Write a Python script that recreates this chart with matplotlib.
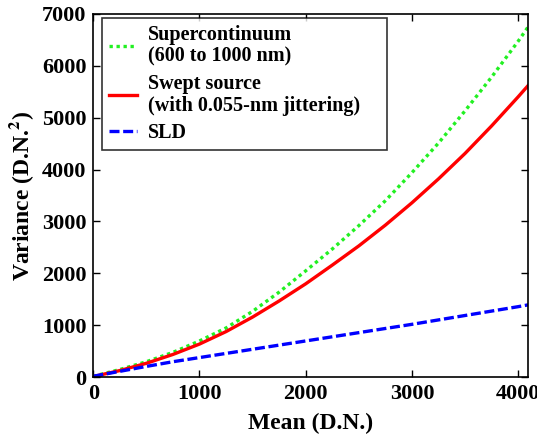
import matplotlib
matplotlib.use("Agg")
import matplotlib.pyplot as plt

plt.rcParams['font.family'] = ['Liberation Serif', 'DejaVu Serif']
plt.rcParams['font.weight'] = 'bold'
plt.rcParams['mathtext.fontset'] = 'stix'

# mean signal (D.N.)
mean_dn = [0, 250, 500, 750, 1000, 1250, 1500, 1750, 2000, 2250,
           2500, 2750, 3000, 3250, 3500, 3750, 4000, 4095]

# noise variance of each source (D.N.^2)
var_supercontinuum = [20, 150, 300, 480, 700, 950, 1270, 1640, 2050, 2470,
                      2920, 3400, 3940, 4510, 5130, 5780, 6470, 6750]
var_swept = [15, 130, 270, 440, 640, 880, 1160, 1470, 1800, 2160,
             2530, 2930, 3360, 3820, 4310, 4840, 5400, 5620]
var_sld = [20, 115, 210, 300, 380, 460, 540, 620, 700, 780,
           860, 940, 1020, 1105, 1190, 1275, 1360, 1395]

# trailing no-break spaces keep the legend box wide on the right
labels = ["Supercontinuum\n(600 to 1000 nm)",
          "Swept source\n(with 0.055-nm jittering)\u00a0\u00a0\u00a0\u00a0",
          "SLD"]

fig = plt.figure(figsize=(5.37, 4.37), dpi=100)
ax = fig.add_axes([0.1737, 0.1366, 0.81, 0.832])

ax.plot(mean_dn, var_supercontinuum, color='#22f022', linestyle=(0, (1, 1.1)),
        linewidth=2.4, label=labels[0])
ax.plot(mean_dn, var_swept, color='#ff0000', linestyle='-',
        linewidth=2.4, label=labels[1])
ax.plot(mean_dn, var_sld, color='#0000ff', linestyle=(0, (3, 1.1)),
        linewidth=2.4, label=labels[2])

ax.set_xlim(0, 4095)
ax.set_ylim(0, 7000)
ax.set_xticks([0, 1000, 2000, 3000, 4000])
ax.set_yticks(range(0, 7001, 1000))
ax.tick_params(direction='in', top=True, right=True, length=5, width=1,
               labelsize=16, pad=5)
for sp in ax.spines.values():
    sp.set_linewidth(1.2)

ax.set_xlabel("Mean (D.N.)", fontsize=17, fontweight='bold', labelpad=6)
ax.set_ylabel(r"Variance (D.N.$^{\mathbf{2}}$)", fontsize=17,
              fontweight='bold', labelpad=4)

leg = ax.legend(loc='upper left', bbox_to_anchor=(0.019, 0.988),
                fontsize=14.5, frameon=True, fancybox=False,
                edgecolor='black', handlelength=1.4, handletextpad=0.55,
                borderpad=0.35, labelspacing=0.35, borderaxespad=0)
leg.get_frame().set_linewidth(1.2)
for t in leg.get_texts():
    t.set_multialignment('left')
    t.set_linespacing(1.12)

fig.savefig("out.png", dpi=100)
